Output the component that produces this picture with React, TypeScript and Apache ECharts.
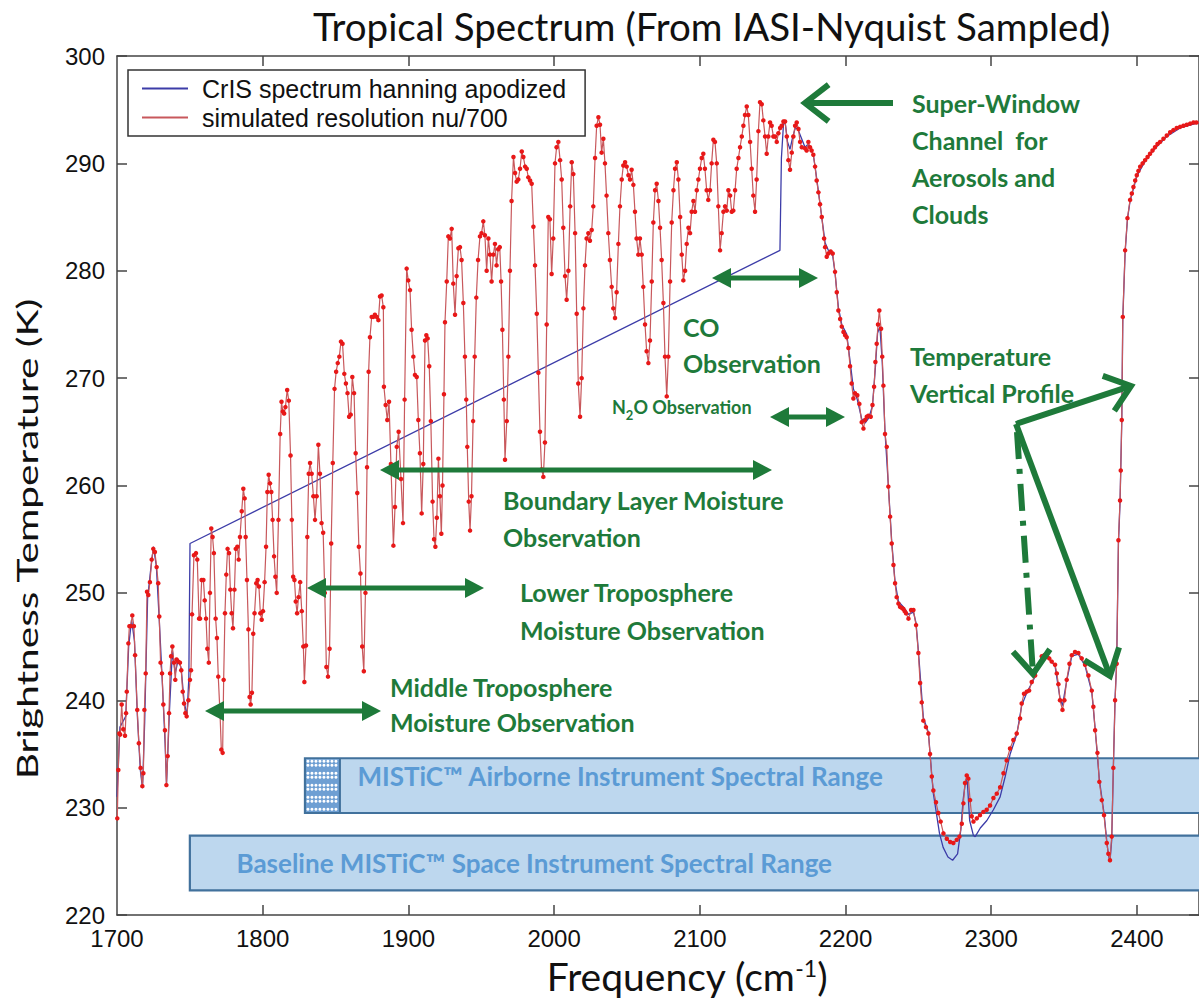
import React, { useEffect, useRef } from 'react';
import * as echarts from 'echarts';

// ---------- axes ----------
const X_MIN = 1700;
const X_MAX = 2442.6;
const Y_MIN = 220;
const Y_MAX = 300;
const freqTickLabels = [1700, 1800, 1900, 2000, 2100, 2200, 2300, 2400];
const freqTicks = [1800, 1900, 2000, 2100, 2200, 2300, 2400];

// ---------- simulated resolution nu/700 (red) ----------
const simulated1700: [number, number][] = [
  [1700.2, 229.0], [1700.9, 233.5], [1701.6, 236.9], [1702.2, 236.8], [1703.2, 239.6], [1704.3, 237.3],
  [1705.5, 236.7], [1706.2, 238.8], [1706.7, 240.8], [1707.8, 245.3], [1708.5, 246.9], [1709.4, 246.9],
  [1710.5, 247.9], [1711.6, 246.9], [1712.4, 244.2], [1713.9, 239.1], [1715.0, 236.0], [1716.2, 233.7],
  [1717.4, 232.0], [1718.1, 233.2], [1718.8, 239.1], [1719.7, 242.5], [1720.6, 250.1], [1721.5, 249.8],
  [1722.6, 251.0], [1723.8, 253.1], [1724.9, 254.1], [1726.0, 253.8], [1727.2, 252.4], [1728.3, 250.9],
  [1729.0, 247.8], [1729.9, 243.5], [1730.9, 242.5], [1731.8, 239.6], [1732.9, 237.2], [1733.9, 232.1],
  [1734.8, 234.8], [1735.7, 238.8], [1736.4, 242.5], [1737.1, 244.1], [1738.0, 245.0], [1739.1, 243.5],
  [1740.0, 241.9], [1740.9, 243.8], [1742.1, 243.6], [1743.2, 243.5], [1744.1, 242.8], [1745.1, 240.8],
  [1746.0, 239.7], [1746.9, 238.8], [1747.8, 238.5], [1749.0, 240.0], [1750.1, 241.9],
];
const simulated1750: [number, number][] = [
  [1750.8, 242.8], [1751.5, 248.0], [1752.8, 253.5], [1754.2, 253.7], [1755.1, 253.1], [1756.3, 247.6],
  [1757.0, 247.6], [1758.1, 251.2], [1759.3, 251.2], [1760.2, 249.3], [1761.1, 247.6], [1762.0, 244.8],
  [1763.0, 243.5], [1763.8, 250.0], [1764.7, 256.0], [1765.6, 255.2], [1766.5, 253.7], [1767.7, 247.6],
  [1768.6, 245.8], [1769.5, 242.2], [1770.7, 238.8], [1771.6, 235.4], [1772.5, 235.1], [1773.2, 241.9],
  [1774.1, 248.1], [1775.0, 251.7], [1775.9, 254.1], [1776.9, 253.7], [1777.8, 250.3], [1778.7, 248.1],
  [1779.6, 246.7], [1780.6, 250.3], [1781.5, 254.1], [1782.6, 254.3], [1783.5, 253.1], [1784.4, 255.2],
  [1785.6, 257.6], [1786.7, 259.7], [1787.6, 258.8], [1788.3, 255.2], [1789.2, 251.2], [1790.2, 246.6],
  [1791.0, 240.3], [1791.7, 239.6], [1792.6, 240.7], [1793.5, 246.2], [1794.4, 248.1], [1795.6, 250.9],
  [1796.5, 251.2], [1797.4, 250.6], [1798.4, 248.1], [1799.3, 247.5], [1800.2, 248.3], [1801.3, 251.0],
  [1802.3, 254.3], [1803.2, 259.4], [1804.1, 261.0], [1805.0, 260.2], [1805.9, 259.4], [1806.8, 256.8],
  [1807.8, 253.4], [1808.7, 251.5], [1809.6, 250.0], [1810.8, 256.8], [1812.0, 264.8], [1812.9, 267.8],
  [1813.8, 266.9], [1814.7, 266.7], [1815.6, 267.3], [1816.8, 268.9], [1817.9, 267.9], [1819.1, 262.8],
  [1820.0, 256.8], [1820.9, 251.5], [1821.8, 251.2], [1822.7, 249.2], [1823.6, 248.1], [1824.6, 249.6],
  [1825.7, 251.0], [1826.8, 248.3], [1827.9, 245.0], [1828.6, 241.7], [1829.7, 245.1], [1830.6, 255.2],
  [1831.6, 261.1], [1832.5, 262.1], [1833.6, 261.1], [1834.8, 259.0], [1835.9, 256.8], [1837.0, 259.0],
  [1838.2, 263.8], [1839.3, 261.1], [1840.4, 256.5], [1841.5, 255.6], [1842.6, 250.0], [1843.7, 243.1],
  [1844.8, 242.2], [1845.9, 244.8], [1847.0, 254.6], [1848.1, 262.1], [1849.3, 269.0], [1850.4, 270.6],
  [1851.5, 271.4], [1852.6, 272.0], [1853.7, 273.4], [1854.8, 273.2], [1856.0, 270.4], [1857.1, 269.5],
  [1858.2, 268.6], [1859.3, 266.4], [1860.4, 266.6], [1861.5, 270.1], [1862.7, 268.6], [1863.8, 263.0],
  [1864.9, 259.3], [1866.0, 254.3], [1867.1, 251.8], [1868.3, 245.0], [1869.4, 242.7], [1870.5, 250.0],
  [1871.6, 261.7], [1872.7, 270.6], [1873.6, 273.8], [1874.8, 275.7], [1875.9, 275.7], [1877.0, 275.9],
  [1878.2, 275.7], [1879.4, 275.4], [1880.5, 277.6], [1881.6, 277.7], [1882.8, 276.6],
];
const simulated1883: [number, number][] = [
  [1883.2, 269.2], [1884.4, 267.5], [1885.5, 266.1], [1886.7, 267.8], [1888.0, 262.0], [1889.7, 254.4],
  [1890.8, 258.0], [1892.0, 263.6], [1893.3, 265.0], [1894.9, 260.6], [1896.3, 256.5], [1897.4, 268.0],
  [1898.8, 280.2], [1899.9, 279.1], [1901.1, 278.2], [1902.2, 274.5], [1903.4, 272.0], [1904.5, 270.3],
  [1905.7, 270.1], [1906.8, 266.1], [1907.9, 263.0], [1909.1, 257.4], [1910.2, 262.0], [1911.4, 273.5],
  [1912.3, 274.0], [1913.2, 273.7], [1914.3, 271.1], [1915.4, 266.0], [1916.6, 258.5], [1917.6, 255.0],
  [1918.5, 254.3], [1919.5, 257.0], [1920.6, 262.5], [1921.6, 259.0], [1922.6, 255.5], [1923.4, 260.0],
  [1924.4, 268.5], [1925.1, 275.2], [1926.3, 279.0], [1927.4, 283.2], [1928.5, 283.0], [1929.7, 283.9],
  [1930.8, 278.8], [1932.0, 275.9], [1933.1, 279.5], [1934.3, 282.1], [1935.4, 282.2], [1936.5, 281.0],
  [1937.7, 277.0], [1938.8, 272.0], [1939.7, 268.0], [1940.4, 263.6], [1941.4, 258.5], [1942.3, 255.8],
  [1943.3, 259.0], [1944.4, 266.0], [1945.5, 272.0], [1946.6, 277.5], [1947.8, 281.0], [1949.1, 283.2],
  [1950.2, 283.5], [1951.4, 284.6], [1952.5, 283.3], [1953.7, 280.0], [1954.9, 283.0], [1956.0, 281.5],
  [1957.1, 279.0], [1958.3, 281.5], [1959.4, 282.5], [1960.5, 280.5], [1961.6, 282.0], [1962.7, 282.2],
  [1963.6, 279.0], [1964.5, 274.5], [1965.5, 268.0],
];
const simulated1966: [number, number][] = [
  [1966.3, 262.4], [1967.5, 266.0], [1968.6, 272.0], [1969.7, 280.0], [1970.8, 286.5], [1972.1, 290.6],
  [1973.2, 289.1], [1974.3, 288.3], [1975.4, 288.5], [1976.6, 289.5], [1977.8, 291.1], [1978.9, 290.6],
  [1980.1, 289.7], [1981.2, 289.5], [1982.3, 288.7], [1983.5, 288.4], [1984.6, 288.1], [1985.8, 284.1],
  [1986.9, 280.5], [1988.1, 276.0], [1989.2, 270.5], [1990.3, 265.0], [1991.4, 261.5], [1992.6, 260.8],
  [1993.7, 264.0], [1994.9, 275.0], [1996.0, 285.0], [1997.1, 284.8], [1998.3, 279.7], [1999.4, 283.0],
  [2000.6, 290.0], [2001.7, 291.5], [2002.9, 292.0], [2004.1, 290.3], [2005.2, 288.5], [2006.3, 284.0],
  [2007.5, 279.5], [2008.6, 277.3], [2009.8, 280.0], [2011.0, 286.0], [2012.1, 290.1], [2013.2, 289.0],
  [2014.4, 283.5], [2015.5, 276.0], [2016.6, 269.5], [2017.8, 266.4], [2018.9, 270.0], [2020.1, 276.5],
  [2021.2, 280.5], [2022.3, 283.0], [2023.5, 283.5], [2024.6, 282.8], [2025.8, 283.8], [2026.9, 286.0],
  [2028.1, 290.5], [2029.2, 293.5], [2030.4, 294.3], [2031.5, 293.6], [2032.6, 291.0], [2033.8, 292.3],
  [2034.9, 290.0], [2036.0, 287.0], [2037.2, 283.5], [2038.3, 281.0], [2039.5, 278.5], [2040.6, 276.5],
  [2041.8, 275.6], [2042.9, 278.0], [2044.1, 282.5], [2045.2, 286.0], [2046.4, 288.5], [2047.5, 289.8],
  [2048.7, 290.1], [2049.8, 289.7], [2051.0, 288.9], [2052.1, 288.5], [2053.2, 289.4], [2054.4, 288.0],
  [2055.5, 285.5], [2056.6, 283.0], [2057.8, 281.5], [2058.9, 283.0], [2060.1, 281.5], [2061.2, 278.5],
  [2062.4, 275.0], [2063.5, 272.5], [2064.7, 271.4], [2065.8, 273.5], [2067.0, 279.0], [2068.1, 284.5],
  [2069.3, 287.5], [2070.4, 288.1], [2071.6, 286.5], [2072.7, 284.0], [2073.8, 281.0], [2075.0, 277.0],
  [2076.1, 272.0], [2077.3, 268.3], [2078.4, 272.0], [2079.6, 279.0], [2080.7, 284.5], [2081.9, 287.5],
  [2083.0, 289.5], [2084.2, 290.1], [2085.3, 288.5], [2086.5, 285.0], [2087.6, 281.5], [2088.7, 279.1],
  [2089.9, 280.0], [2091.0, 282.5], [2092.2, 284.0], [2093.3, 283.5], [2094.4, 285.5], [2095.6, 286.5],
  [2096.7, 285.5], [2097.9, 287.5], [2099.0, 288.5], [2100.1, 289.5], [2101.3, 290.5], [2102.4, 290.9],
  [2103.5, 289.5], [2104.7, 287.5], [2105.8, 286.6], [2107.0, 287.5], [2108.1, 290.0], [2109.3, 292.2],
  [2110.4, 292.0], [2111.6, 290.0], [2112.7, 286.0], [2113.9, 281.9], [2115.0, 283.5], [2116.2, 285.5],
  [2117.3, 286.0], [2118.5, 285.6], [2119.6, 287.5], [2120.8, 287.0], [2121.9, 285.5], [2123.0, 285.6],
  [2124.2, 287.5], [2125.3, 289.5], [2126.5, 290.5], [2127.6, 291.5], [2128.8, 292.5], [2129.9, 293.5],
  [2131.0, 294.5], [2132.2, 295.3], [2133.3, 294.5], [2134.5, 292.0], [2135.6, 289.5], [2136.7, 287.0],
  [2137.9, 285.5], [2139.0, 288.5], [2140.2, 293.0], [2141.3, 295.7], [2142.5, 295.5], [2143.6, 294.0],
  [2144.8, 292.5], [2145.9, 290.9], [2147.0, 292.5], [2148.2, 293.8], [2149.3, 293.5], [2150.5, 292.5],
  [2151.6, 292.5], [2152.8, 292.0], [2153.9, 292.8], [2155.1, 293.3], [2156.2, 293.5], [2157.4, 293.9],
  [2158.5, 293.9], [2159.7, 292.5], [2160.8, 290.3], [2161.9, 289.4], [2163.1, 291.0], [2164.2, 292.5],
  [2165.4, 293.5], [2166.5, 293.8], [2167.7, 293.2], [2168.8, 292.0], [2170.0, 291.5],
];
const simulated2170: [number, number][] = [
  [2172.2, 291.4], [2173.3, 291.2], [2174.5, 292.0], [2175.6, 291.5], [2176.7, 291.2], [2177.9, 290.8],
  [2179.1, 289.7], [2180.2, 288.4], [2181.4, 287.3], [2182.5, 286.2], [2183.7, 285.0], [2185.3, 283.0],
  [2186.0, 282.2], [2187.1, 281.3], [2188.2, 281.6], [2189.8, 281.8], [2191.2, 281.6], [2192.8, 279.9],
  [2194.0, 278.0], [2195.1, 276.3], [2196.3, 275.5], [2197.4, 274.8], [2198.6, 274.3], [2199.7, 274.0],
  [2200.8, 273.8], [2202.0, 272.8], [2203.1, 271.1], [2204.2, 269.5], [2205.4, 268.1], [2206.5, 268.6],
  [2208.1, 268.4], [2209.5, 267.6], [2211.1, 265.9], [2212.3, 265.3], [2213.4, 266.1], [2214.6, 266.4],
  [2215.7, 266.5], [2217.3, 266.4], [2218.5, 267.5], [2219.6, 269.2], [2220.5, 271.5], [2221.4, 273.2],
  [2222.3, 275.0], [2223.2, 276.3], [2224.4, 274.6], [2225.2, 272.0], [2226.0, 269.3], [2227.1, 264.8],
  [2228.3, 263.6], [2229.4, 259.9], [2230.6, 257.1], [2231.7, 254.6], [2232.9, 252.6], [2234.0, 250.9],
  [2235.1, 249.6], [2236.3, 249.0], [2237.4, 248.7], [2238.6, 248.6], [2239.7, 248.5], [2240.6, 248.3],
  [2241.5, 248.1], [2243.2, 247.6], [2245.0, 248.4], [2246.6, 248.4], [2248.4, 247.0], [2250.0, 244.4],
  [2251.2, 241.6], [2252.3, 239.8], [2253.4, 238.1], [2255.2, 237.5], [2256.9, 236.9], [2258.0, 235.0],
  [2259.2, 232.9],
];
const simulated2260: [number, number][] = [
  [2260.3, 231.6], [2262.1, 230.5], [2263.7, 229.5], [2265.3, 228.7], [2267.2, 227.6], [2269.5, 227.1],
  [2271.8, 226.8], [2274.0, 226.7], [2276.3, 227.0], [2278.2, 227.3], [2279.8, 228.5], [2280.9, 230.4],
  [2282.0, 232.3], [2283.2, 233.0], [2284.3, 232.7], [2285.5, 230.7], [2286.6, 229.2], [2287.8, 228.7],
  [2290.1, 229.0], [2292.3, 229.3], [2294.6, 229.6], [2296.9, 229.8], [2299.2, 230.2], [2301.5, 230.9],
  [2303.8, 231.3], [2306.1, 231.9], [2308.4, 233.2], [2310.6, 234.4], [2312.9, 235.5], [2315.2, 236.3],
  [2317.5, 236.9], [2319.8, 238.3], [2320.9, 239.7], [2322.5, 240.6], [2324.4, 240.8], [2326.0, 240.9],
  [2327.8, 241.7], [2330.1, 242.3], [2332.4, 243.2], [2334.7, 244.1], [2336.4, 244.2], [2338.1, 244.1],
  [2339.8, 243.9], [2341.5, 243.6], [2343.8, 243.3], [2345.0, 242.5], [2346.1, 241.5], [2347.2, 240.0],
  [2348.9, 239.1], [2350.2, 240.0], [2351.8, 241.9], [2353.7, 243.4], [2355.3, 244.2], [2357.5, 244.5],
  [2359.8, 244.4], [2362.1, 243.9], [2364.4, 243.3], [2366.7, 242.3], [2369.0, 240.9], [2370.1, 239.4],
  [2371.3, 237.2], [2372.9, 235.1], [2374.2, 232.4], [2375.9, 230.7], [2377.4, 229.3], [2379.3, 226.7],
  [2380.4, 225.7], [2381.5, 225.1], [2382.7, 227.3], [2383.8, 233.7], [2385.0, 240.0], [2386.1, 243.4],
  [2387.3, 254.9], [2388.4, 258.6], [2388.9, 261.4], [2389.6, 266.1], [2390.3, 275.7], [2391.9, 281.9],
  [2393.5, 284.9], [2395.3, 286.6], [2396.5, 287.2], [2397.6, 287.8], [2398.8, 288.4], [2399.9, 288.9],
  [2401.0, 289.3], [2402.2, 289.7], [2403.9, 290.0], [2405.6, 290.3], [2407.3, 290.6], [2409.0, 290.9],
  [2410.7, 291.2], [2412.4, 291.5], [2414.1, 291.8], [2415.9, 292.0], [2418.2, 292.3], [2420.5, 292.6],
  [2422.8, 292.9], [2425.0, 293.1], [2427.3, 293.3], [2429.6, 293.4], [2431.9, 293.5], [2434.2, 293.6],
  [2436.5, 293.7], [2438.8, 293.8], [2440.8, 293.8], [2442.7, 293.8],
];
const simulatedSpectrum = [
  ...simulated1700, ...simulated1750, ...simulated1883, ...simulated1966, ...simulated2170, ...simulated2260,
];

// ---------- CrIS spectrum hanning apodized (blue) ----------
const crisMidwave: [number, number][] = [
  [1700.0, 231.0], [1702.0, 237.5], [1704.0, 238.0], [1706.0, 238.5], [1708.0, 245.0], [1710.0, 247.5],
  [1712.0, 245.5], [1714.0, 238.5], [1716.0, 233.5], [1717.5, 231.8], [1719.0, 238.0], [1721.0, 249.5],
  [1723.0, 252.0], [1725.0, 254.3], [1727.0, 252.5], [1729.0, 247.5], [1731.0, 242.0], [1733.0, 236.0],
  [1734.0, 232.2], [1736.0, 239.0], [1738.0, 244.6], [1740.0, 242.5], [1742.0, 243.8], [1744.0, 243.0],
  [1746.0, 240.0], [1748.0, 238.5], [1749.3, 242.0], [1750.1, 254.6],
];
const crisShortwave: [number, number][] = [
  [2155.0, 281.9], [2156.0, 290.5], [2157.4, 293.6], [2158.5, 293.9], [2160.2, 292.0], [2161.9, 291.3],
  [2163.5, 292.3], [2165.3, 293.2], [2167.0, 293.3], [2169.0, 292.6], [2172.2, 291.5], [2174.5, 291.8],
  [2177.9, 290.8], [2179.1, 289.7], [2181.4, 287.4], [2183.7, 285.0], [2186.0, 282.6], [2188.2, 281.9],
  [2191.2, 281.4], [2192.8, 279.8], [2195.1, 276.6], [2197.4, 275.0], [2200.8, 274.1], [2203.1, 271.6],
  [2205.4, 269.0], [2208.1, 268.0], [2211.1, 266.2], [2213.4, 265.8], [2216.0, 266.3], [2218.5, 267.4],
  [2220.5, 271.0], [2222.0, 274.2], [2223.6, 274.8], [2225.2, 271.5], [2227.1, 265.0], [2229.4, 260.0],
  [2231.7, 254.8], [2234.0, 251.0], [2236.3, 249.2], [2239.7, 248.7], [2243.2, 248.0], [2246.6, 248.2],
  [2248.4, 247.2], [2250.0, 244.6], [2253.4, 238.4], [2256.9, 237.0], [2259.2, 233.0], [2260.3, 231.3],
  [2264.5, 227.6], [2267.0, 226.3], [2270.3, 225.4], [2273.5, 225.1], [2276.9, 225.7], [2279.1, 227.9],
  [2280.7, 230.7], [2282.5, 232.6], [2283.6, 232.4], [2285.2, 228.8], [2287.8, 227.4], [2289.0, 227.3],
  [2292.5, 228.1], [2297.0, 228.8], [2301.5, 229.8], [2306.1, 231.0], [2309.6, 232.9], [2313.0, 235.0],
  [2317.5, 236.8], [2320.9, 239.5], [2324.4, 240.7], [2330.1, 242.2], [2334.7, 244.0], [2338.1, 244.1],
  [2343.8, 243.2], [2347.2, 240.2], [2348.9, 239.5], [2351.8, 241.8], [2355.3, 244.1], [2359.8, 244.3],
  [2364.4, 243.2], [2369.0, 240.8], [2371.3, 237.4], [2374.2, 232.6], [2377.4, 229.5], [2379.3, 226.9],
  [2380.4, 225.6], [2381.5, 225.0], [2382.7, 227.0], [2383.8, 233.5], [2385.0, 240.2], [2386.1, 243.6],
  [2387.3, 254.5], [2388.4, 258.4], [2389.6, 266.0], [2390.3, 275.5], [2391.9, 281.7], [2393.5, 284.8],
  [2395.3, 286.5], [2399.9, 288.8], [2405.6, 290.2], [2412.4, 291.4], [2420.5, 292.5], [2429.6, 293.3],
  [2442.7, 293.8],
];
const crisSpectrum = [...crisMidwave, ...crisShortwave];

// ---------- instrument spectral ranges ----------
const rangeNames = [
  'MISTiC™ Airborne Instrument Spectral Range',
  'Baseline MISTiC™ Space Instrument Spectral Range',
];
// [from, to, low K, high K, label freq, label K, hatched-to]
const rangeBoxes = [
  [1829, 2460, 229.5, 234.6, 1865, 232.9, 1853],
  [1750, 2460, 222.3, 227.4, 1782, 224.85, 0],
];

const GREEN = '#1E7A3A';
const ANNOT_FONT = 'bold 25px Lato';

function doubleArrow(x1: number, x2: number, y: number) {
  const hl = 19, hw = 10;
  return [
    { type: 'line', shape: { x1: x1 + hl - 2, y1: y, x2: x2 - hl + 2, y2: y }, style: { stroke: GREEN, lineWidth: 5 } },
    { type: 'polygon', shape: { points: [[x1, y], [x1 + hl, y - hw], [x1 + hl, y + hw]] }, style: { fill: GREEN } },
    { type: 'polygon', shape: { points: [[x2, y], [x2 - hl, y - hw], [x2 - hl, y + hw]] }, style: { fill: GREEN } },
  ];
}

function chevronArrow(x1: number, y1: number, x2: number, y2: number, dash?: number[]) {
  const dx = x2 - x1, dy = y2 - y1;
  const len = Math.sqrt(dx * dx + dy * dy);
  const ux = dx / len, uy = dy / len;
  const arm = 30, ang = (38 * Math.PI) / 180;
  const bx = -ux, by = -uy;
  const a1 = [x2 + arm * (bx * Math.cos(ang) - by * Math.sin(ang)), y2 + arm * (bx * Math.sin(ang) + by * Math.cos(ang))];
  const a2 = [x2 + arm * (bx * Math.cos(-ang) - by * Math.sin(-ang)), y2 + arm * (bx * Math.sin(-ang) + by * Math.cos(-ang))];
  const shaftStyle: any = { stroke: GREEN, lineWidth: 6 };
  if (dash) shaftStyle.lineDash = dash;
  return [
    { type: 'line', shape: { x1, y1, x2: x2 - ux * 3, y2: y2 - uy * 3 }, style: shaftStyle },
    { type: 'polyline', shape: { points: [a1, [x2, y2], a2] }, style: { stroke: GREEN, lineWidth: 6, fill: null, lineJoin: 'miter' } },
  ];
}

function label(x: number, y: number, text: string, font = ANNOT_FONT) {
  return { type: 'text', x, y, style: { text, font, fill: GREEN, verticalAlign: 'middle', align: 'left' } };
}

export default function App() {
  const ref = useRef<HTMLDivElement>(null);
  useEffect(() => {
    if (!ref.current) return;
    const chart = echarts.init(ref.current, null, { renderer: 'svg' });

    const graphics: any[] = [
      // axis names
      {
        type: 'text', x: 27, y: 539, rotation: Math.PI / 2, scaleX: 1.45, scaleY: 1,
        style: { text: 'Brightness Temperature (K)', font: '28px Lato', fill: '#111', align: 'center', verticalAlign: 'middle' },
      },
      {
        type: 'text', x: 687, y: 978,
        style: {
          text: '{m|Frequency (cm}{s|-1}{m|)}', align: 'center', verticalAlign: 'middle', fill: '#111',
          rich: {
            m: { fontFamily: 'Lato', fontSize: 39, lineHeight: 44, verticalAlign: 'top', fill: '#111' },
            s: { fontFamily: 'Lato', fontSize: 23, lineHeight: 24, verticalAlign: 'top', fill: '#111' },
          },
        },
      },
      // annotations
      label(912, 103, 'Super-Window'),
      label(912, 140, 'Channel  for'),
      label(912, 177, 'Aerosols and'),
      label(912, 214, 'Clouds'),
      ...chevronArrow(893, 103, 805, 103),
      label(683, 327, 'CO'),
      label(683, 363, 'Observation'),
      ...doubleArrow(712, 818, 278),
      {
        type: 'text', x: 612, y: 408,
        style: {
          text: '{n|N}{b|2}{n|O Observation}', align: 'left', verticalAlign: 'middle', fill: GREEN,
          rich: {
            n: { fontFamily: 'Lato', fontWeight: 'bold', fontSize: 18, lineHeight: 20, verticalAlign: 'top', fill: GREEN },
            b: { fontFamily: 'Lato', fontWeight: 'bold', fontSize: 13, lineHeight: 13, padding: [10, 0, 0, 0], verticalAlign: 'top', fill: GREEN },
          },
        },
      },
      ...doubleArrow(770, 845, 417),
      label(910, 356, 'Temperature'),
      label(910, 393, 'Vertical Profile'),
      ...chevronArrow(1016, 424, 1131, 386),
      ...chevronArrow(1016, 424, 1110, 676),
      ...chevronArrow(1017, 432, 1033, 674, [27, 10, 5, 10]),
      label(503, 500, 'Boundary Layer Moisture'),
      label(503, 537, 'Observation'),
      ...doubleArrow(380, 772, 470),
      label(520, 592, 'Lower Troposphere'),
      label(520, 630, 'Moisture Observation'),
      ...doubleArrow(307, 484, 588),
      label(390, 687, 'Middle Troposphere'),
      label(390, 722, 'Moisture Observation'),
      ...doubleArrow(205, 381, 711),
    ];

    const option: any = {
      animation: false,
      backgroundColor: '#ffffff',
      title: {
        text: 'Tropical Spectrum (From IASI-Nyquist Sampled)',
        left: 308,
        top: 1,
        textStyle: { fontFamily: 'Lato', fontSize: 38.5, fontWeight: 'normal', color: '#111' },
      },
      legend: {
        orient: 'vertical',
        left: 128,
        top: 70,
        padding: [6, 19, 6, 14],
        itemGap: 4,
        itemWidth: 46,
        itemHeight: 2,
        borderColor: '#333',
        borderWidth: 1.5,
        borderRadius: 0,
        backgroundColor: '#fff',
        selectedMode: false,
        textStyle: { fontFamily: 'Liberation Sans', fontSize: 25, color: '#111', padding: [0, 0, 0, 9] },
        data: [
          { name: 'CrIS spectrum hanning apodized', icon: 'rect', itemStyle: { color: '#3c3ca8' } },
          { name: 'simulated resolution nu/700', icon: 'rect', itemStyle: { color: '#c8585c' } },
        ],
        z: 20,
      },
      grid: { left: 117, right: 0, top: 56, bottom: 89, containLabel: false },
      xAxis: [
        {
          type: 'value', min: X_MIN, max: X_MAX, interval: 100, position: 'bottom',
          axisLine: { show: true, lineStyle: { color: '#444', width: 1.5 } },
          axisTick: { show: true, inside: true, length: 10, customValues: freqTicks, lineStyle: { color: '#444', width: 1.5 } },
          axisLabel: {
            show: true, customValues: freqTickLabels, margin: 11, fontFamily: 'Liberation Sans', fontSize: 24, color: '#111',
            formatter: (v: number) => String(Math.round(v)),
          },
          splitLine: { show: false },
        },
        {
          type: 'value', min: X_MIN, max: X_MAX, interval: 100, position: 'top',
          axisLine: { show: true, lineStyle: { color: '#444', width: 1.5 } },
          axisTick: { show: true, inside: true, length: 10, customValues: freqTicks, lineStyle: { color: '#444', width: 1.5 } },
          axisLabel: { show: false },
          splitLine: { show: false },
        },
      ],
      yAxis: [
        {
          type: 'value', min: Y_MIN, max: Y_MAX, interval: 10, position: 'left',
          axisLine: { show: true, lineStyle: { color: '#444', width: 1.5 } },
          axisTick: { show: true, inside: true, length: 10, lineStyle: { color: '#444', width: 1.5 } },
          axisLabel: { show: true, margin: 12, fontFamily: 'Liberation Sans', fontSize: 24, color: '#111' },
          splitLine: { show: false },
        },
        {
          type: 'value', min: Y_MIN, max: Y_MAX, interval: 10, position: 'right',
          axisLine: { show: true, lineStyle: { color: '#444', width: 1.5 } },
          axisTick: { show: true, inside: true, length: 10, lineStyle: { color: '#444', width: 1.5 } },
          axisLabel: { show: false },
          splitLine: { show: false },
        },
      ],
      series: [
        {
          type: 'custom',
          name: 'ranges',
          xAxisIndex: 0,
          yAxisIndex: 0,
          clip: true,
          z: 1,
          silent: true,
          data: rangeBoxes,
          renderItem: (params: any, api: any) => {
            const x0 = api.value(0), x1 = api.value(1), lo = api.value(2), hi = api.value(3);
            const lf = api.value(4), lt = api.value(5), hx = api.value(6);
            const p0 = api.coord([x0, hi]);
            const p1 = api.coord([x1, lo]);
            const children: any[] = [
              {
                type: 'rect',
                shape: { x: p0[0], y: p0[1], width: p1[0] - p0[0], height: p1[1] - p0[1] },
                style: { fill: '#BDD7EE', stroke: '#41719C', lineWidth: 2.2 },
              },
            ];
            if (hx > 0) {
              const h1 = api.coord([hx, lo]);
              children.push({
                type: 'rect',
                shape: { x: p0[0] + 1, y: p0[1] + 1, width: h1[0] - p0[0] - 1, height: h1[1] - p0[1] - 2 },
                style: { fill: '#6E9FD3' },
              });
              for (let cx = p0[0] + 3; cx < h1[0] - 1; cx += 4) {
                for (let cy = p0[1] + 3; cy < h1[1] - 1; cy += 4) {
                  children.push({ type: 'circle', shape: { cx, cy, r: 1.5 }, style: { fill: '#ffffff' } });
                }
              }
              children.push({
                type: 'line', shape: { x1: h1[0], y1: p0[1], x2: h1[0], y2: h1[1] },
                style: { stroke: '#41719C', lineWidth: 2 },
              });
            }
            const lp = api.coord([lf, lt]);
            children.push({
              type: 'text', x: lp[0], y: lp[1],
              style: {
                text: rangeNames[params.dataIndex], font: 'bold 26px Lato', fill: '#5B9BD5',
                align: 'left', verticalAlign: 'middle',
              },
            });
            return { type: 'group', children };
          },
        },
        {
          type: 'line',
          name: 'CrIS spectrum hanning apodized',
          data: crisSpectrum,
          showSymbol: false,
          symbol: 'none',
          z: 2,
          silent: true,
          lineStyle: { color: '#3c3ca8', width: 1.3 },
          itemStyle: { color: '#3c3ca8' },
        },
        {
          type: 'line',
          name: 'simulated resolution nu/700',
          data: simulatedSpectrum,
          symbol: 'circle',
          symbolSize: 4.5,
          showAllSymbol: true,
          z: 3,
          silent: true,
          lineStyle: { color: '#c8585c', width: 1.2 },
          itemStyle: { color: '#e81818' },
        },
      ],
      graphic: { elements: graphics.map((g) => ({ ...g, z: 100, silent: true })) },
    };

    chart.setOption(option);
    return () => chart.dispose();
  }, []);

  return (
    <div
      ref={ref}
      style={{ position: 'absolute', left: 0, top: 0, width: 1199, height: 1004, background: '#fff' }}
    />
  );
}
